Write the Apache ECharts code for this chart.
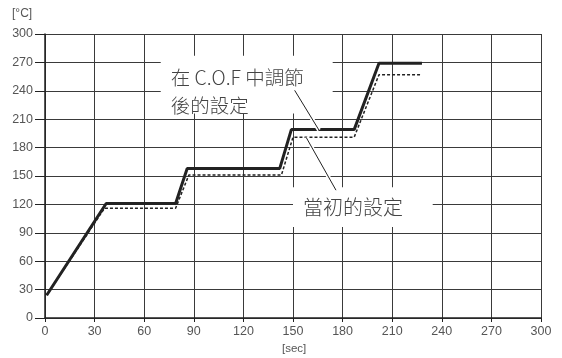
<!DOCTYPE html>
<html><head><meta charset="utf-8">
<script src="https://cdn.jsdelivr.net/npm/echarts@6/dist/echarts.min.js"></script>
<style>html,body{margin:0;padding:0;background:#fff}#c{width:562px;height:358px}</style>
</head><body><div id="c"></div>
<script>
// Data (seconds, °C)
const adjustedTime = [1, 37, 79, 86, 142, 149, 187, 202, 228];
const adjustedTemp = [24, 121, 121, 158, 158, 199, 199, 269, 269];
const originalTime = [1, 36, 79, 87, 143, 150, 187, 202, 228];
const originalTemp = [24, 116, 116, 151, 151, 191, 191, 257, 257];
const axisTicks = [0, 30, 60, 90, 120, 150, 180, 210, 240, 270, 300];
const label1Lines = ['在 C.O.F 中調節', '後的設定'];
const label2Text = '當初的設定';
// annotation placement in data units
const box1 = {x0: 70, x1: 174, y0: 277, y1: 216, tx: 76, ty: 269};
const lead1 = [[151, 240.5], [165.7, 198.5]];
const box2 = {x0: 150, x1: 234.5, y0: 138, y1: 96, tx: 156, ty: 117};
const lead2 = [[157.9, 191], [176, 135]];

const chart = echarts.init(document.getElementById('c'), null, {renderer: 'canvas'});
const gridCol = '#3a3a3a';
const labelStyle = {color: '#555', fontSize: 12.5, fontFamily: 'Liberation Sans, Arial, sans-serif'};
function pairs(t, v) { return t.map((x, i) => [x, v[i]]); }
chart.setOption({
  animation: false,
  grid: {left: 45, right: 21, top: 34, bottom: 40, containLabel: false},
  xAxis: {
    type: 'value', min: axisTicks[0], max: axisTicks[axisTicks.length - 1], interval: 30,
    axisLine: {show: true, lineStyle: {color: '#222', width: 1.5}},
    axisTick: {show: true, length: 4, lineStyle: {color: '#222'}},
    axisLabel: Object.assign({margin: 7}, labelStyle),
    splitLine: {show: true, lineStyle: {color: gridCol, width: 1}}
  },
  yAxis: {
    type: 'value', min: axisTicks[0], max: axisTicks[axisTicks.length - 1], interval: 30,
    axisLine: {show: true, lineStyle: {color: '#222', width: 1.5}},
    axisTick: {show: true, length: 10, lineStyle: {color: '#222'}},
    axisLabel: Object.assign({margin: 12}, labelStyle),
    splitLine: {show: true, lineStyle: {color: gridCol, width: 1}}
  },
  series: [
    {type: 'line', data: pairs(originalTime, originalTemp), symbol: 'none', z: 3,
     lineStyle: {color: '#222', width: 1.5, type: [3, 2]}},
    {type: 'line', data: pairs(adjustedTime, adjustedTemp), symbol: 'none', z: 4,
     lineStyle: {color: '#222', width: 3}}
  ]
});

function px(p) { return chart.convertToPixel({xAxisIndex: 0, yAxisIndex: 0}, p); }
function rectFrom(b) {
  const a = px([b.x0, b.y0]), c = px([b.x1, b.y1]);
  return {x: a[0], y: a[1], width: c[0] - a[0], height: c[1] - a[1]};
}
const r1 = rectFrom(box1), r2 = rectFrom(box2);
const t1 = px([box1.tx, box1.ty]), t2 = px([box2.tx, box2.ty]);
const l1a = px(lead1[0]), l1b = px(lead1[1]);
const l2a = px(lead2[0]), l2b = px(lead2[1]);
const cjk = '"Noto Sans CJK TC", "Noto Sans CJK SC", sans-serif';
chart.setOption({
  graphic: [
    {type: 'rect', shape: r1, style: {fill: '#fff'}, z: 10},
    {type: 'rect', shape: r2, style: {fill: '#fff'}, z: 10},
    {type: 'text', x: t1[0], y: t1[1], z: 12,
     style: {text: label1Lines.join('\n'), fill: '#444', font: '300 19.5px ' + cjk, lineHeight: 28, textVerticalAlign: 'top'}},
    {type: 'text', x: t2[0], y: t2[1], z: 12,
     style: {text: label2Text, fill: '#444', font: '300 20px ' + cjk, textVerticalAlign: 'middle'}},
    {type: 'text', x: 12, y: 8, z: 12, style: {text: '[°C]', fill: '#555', font: '12px "Liberation Sans", Arial, sans-serif'}},
    {type: 'text', x: 282, y: 343, z: 12, style: {text: '[sec]', fill: '#555', font: '11.5px "Liberation Sans", Arial, sans-serif'}},
    {type: 'line', shape: {x1: l1a[0], y1: l1a[1], x2: l1b[0], y2: l1b[1]}, style: {stroke: '#fff', lineWidth: 4}, z: 11},
    {type: 'line', shape: {x1: l1a[0], y1: l1a[1], x2: l1b[0], y2: l1b[1]}, style: {stroke: '#222', lineWidth: 1}, z: 12},
    {type: 'line', shape: {x1: l2a[0], y1: l2a[1], x2: l2b[0], y2: l2b[1]}, style: {stroke: '#fff', lineWidth: 4}, z: 11},
    {type: 'line', shape: {x1: l2a[0], y1: l2a[1], x2: l2b[0], y2: l2b[1]}, style: {stroke: '#222', lineWidth: 1}, z: 12}
  ]
});
</script></body></html>
